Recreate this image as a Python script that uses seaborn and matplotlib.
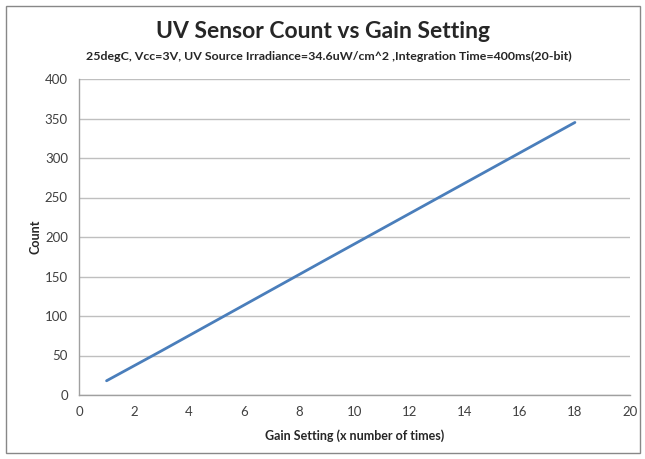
import pandas as pd
import numpy as np
import matplotlib.pyplot as plt
import seaborn as sns
from matplotlib.patches import Rectangle

gain = [1, 3, 6, 9, 18]
count = [18, 56, 114, 172, 345]

sns.set_style("white")
plt.rcParams['font.family'] = ['Lato', 'DejaVu Sans']

df = pd.DataFrame({"gain": gain, "count": count})

fig = plt.figure(figsize=(6.45, 4.59), dpi=100)
ax = fig.add_axes([79 / 645, 1 - 395 / 459, (630 - 79) / 645, (395 - 79) / 459])

sns.lineplot(data=df, x="gain", y="count", ax=ax, color="#4a7ebb", linewidth=2)

ax.set_xlim(0, 20)
ax.set_ylim(0, 400)
ax.set_xticks(np.arange(0, 21, 2))
ax.set_yticks(np.arange(0, 401, 50))
ax.yaxis.grid(True, color="#bfbfbf", linewidth=1)
ax.xaxis.grid(False)
for s in ["top", "right"]:
    ax.spines[s].set_visible(False)
for s in ["left", "bottom"]:
    ax.spines[s].set_color("#a0a0a0")
    ax.spines[s].set_linewidth(1)
ax.tick_params(axis="both", labelsize=9.5, colors="#404040", length=0, pad=8)

ax.set_xlabel("Gain Setting (x number of times)", fontsize=9, fontweight="bold", labelpad=8)
ax.set_ylabel("Count", fontsize=9, fontweight="bold", labelpad=2)

fig.text(0.5, 1 - 31 / 459, "UV Sensor Count vs Gain Setting", ha="center", va="center",
         fontsize=16.5, fontweight="bold")
fig.text(0.51, 1 - 56 / 459,
         "25degC, Vcc=3V, UV Source Irradiance=34.6uW/cm^2 ,Integration Time=400ms(20-bit)",
         ha="center", va="center", fontsize=8.9, fontweight="bold")

fig.patches.append(Rectangle((6 / 645, 6 / 459), 634 / 645, 447 / 459, transform=fig.transFigure,
                             fill=False, edgecolor="#888888", linewidth=1))

fig.savefig("out.png", dpi=100)
